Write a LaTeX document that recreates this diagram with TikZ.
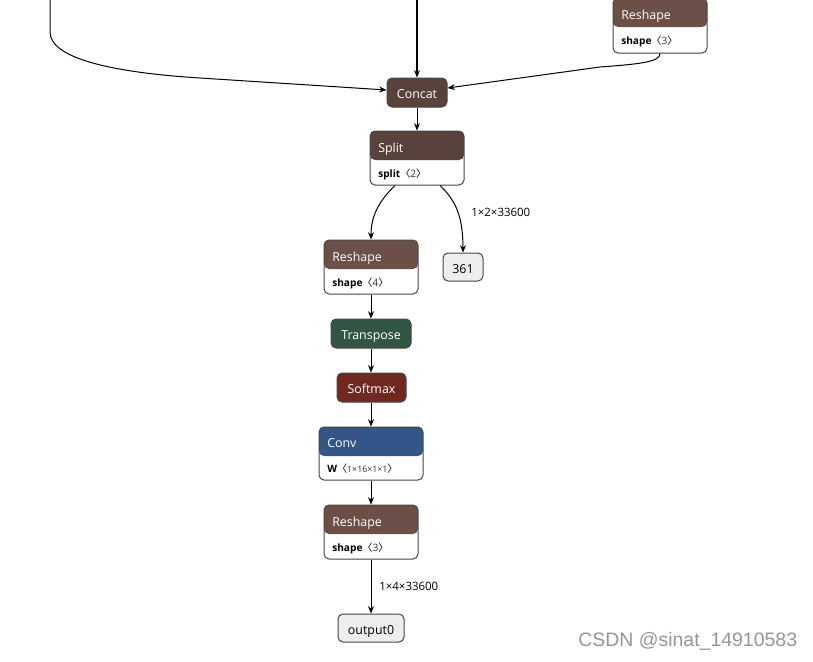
\documentclass[tikz,border=0pt]{standalone}
\usepackage{fontspec}
\setmainfont{Open Sans}
\newfontfamily\wmfont{Liberation Sans}
\newfontfamily\cjk{Noto Sans CJK SC}
\usetikzlibrary{arrows.meta,calc}
\definecolor{shapec}{RGB}{108,79,71}
\definecolor{tensc}{RGB}{89,66,59}
\definecolor{transc}{RGB}{51,85,68}
\definecolor{actc}{RGB}{112,41,33}
\definecolor{layerc}{RGB}{51,85,136}
\definecolor{bord}{RGB}{70,70,70}
\definecolor{iofill}{RGB}{238,238,238}
\definecolor{wmgray}{RGB}{150,150,150}
\definecolor{valc}{RGB}{50,50,60}
\newcommand\lb{{\cjk〈}}
\newcommand\rb{{\cjk〉}}
\begin{document}
\begin{tikzpicture}[x=0.75pt,y=-0.75pt,
  box/.style={draw=bord, line width=0.75pt, rounded corners=3.75pt, inner sep=0pt},
  hdr/.style={box, fill=white, path picture={\fill[#1] (path picture bounding box.north west) rectangle ([yshift=-29*0.75pt]path picture bounding box.north east);}},
  simple/.style={box, fill=#1, text=white, minimum height=29*0.75pt, text height=9pt, text depth=0pt, font=\fontsize{9.3pt}{11pt}\selectfont},
  io/.style={box, fill=iofill, text=black, minimum height=28*0.75pt, text height=9pt, text depth=0pt, font=\fontsize{9.3pt}{11pt}\selectfont},
  htxt/.style={anchor=base west, inner sep=0pt, text=white, font=\fontsize{9.3pt}{11pt}\selectfont},
  btxt/.style={anchor=base west, inner sep=0pt, text=black, font=\fontsize{7.6pt}{9pt}\selectfont},
  elab/.style={anchor=west, inner sep=0pt, text=black, font=\fontsize{8.6pt}{10pt}\selectfont},
  edge/.style={draw=black, line width=0.75pt, -{Stealth[length=5.5pt,width=4.5pt]}}
]
\useasboundingbox (0,0) rectangle (813,661);

% top Reshape
\node[hdr=shapec, minimum width=94*0.75pt, minimum height=55*0.75pt] (rs0) at (660,25.5) {};
\node[htxt] (rs0h) at (621,19.5) {Reshape};
\node[btxt] (rs0b) at (621,44.5) {\textbf{shape}\lb{\color{valc}3}\rb};

% Concat
\node[simple=tensc, minimum width=60*0.75pt] (concat) at (417,92.5) {Concat};

% Split
\node[hdr=tensc, minimum width=94*0.75pt, minimum height=54*0.75pt] (split) at (417,158) {};
\node[htxt] (splith) at (378,152.5) {Split};
\node[btxt] (splitb) at (378,177) {\textbf{split}\lb{\color{valc}2}\rb};

% Reshape 4
\node[hdr=shapec, minimum width=94*0.75pt, minimum height=54*0.75pt] (rs4) at (371,267) {};
\node[htxt] (rs4h) at (332,261.5) {Reshape};
\node[btxt] (rs4b) at (332,286) {\textbf{shape}\lb{\color{valc}4}\rb};

% 361
\node[io, minimum width=40*0.75pt] (n361) at (463,267) {361};

% Transpose
\node[simple=transc, minimum width=80*0.75pt] (tr) at (371,333.5) {Transpose};

% Softmax
\node[simple=actc, minimum width=69*0.75pt] (sm) at (371.5,387.5) {Softmax};

% Conv
\node[hdr=layerc, minimum width=104*0.75pt, minimum height=53*0.75pt] (conv) at (371,453.5) {};
\node[htxt] (convh) at (327,447.7) {Conv};
\node[btxt] (convb) at (327,472.5) {\textbf{W}\lb{\color{valc}\fontsize{6.6pt}{8pt}\selectfont 1×16×1×1}\rb};

% Reshape 3
\node[hdr=shapec, minimum width=94*0.75pt, minimum height=54*0.75pt] (rs3) at (371,532) {};
\node[htxt] (rs3h) at (332,526.5) {Reshape};
\node[btxt] (rs3b) at (332,551) {\textbf{shape}\lb{\color{valc}3}\rb};

% output0
\node[io, minimum width=66*0.75pt] (out) at (371,628) {output0};

% incoming from above
\coordinate (in1) at (417,-2);
\coordinate (in2) at (50,-2);

\draw[edge, line width=1.5pt] (in1) -- (concat.north);
\draw[edge] (in2) -- (50,32) .. controls (50,60) and (120,73) .. (200,78) -- ($(concat.west)+(0,-2.5)$);
\draw[edge] (rs0.south) .. controls (660,62) and (640,64) .. (600,67) -- ($(concat.east)+(0,-4.5)$);
\draw[edge] (concat.south) -- (split.north);
\draw[edge] ($(split.south)+(-22,0)$) .. controls (380,200) and (371,215) .. (rs4.north);
\draw[edge] ($(split.south)+(23,0)$) .. controls (455,200) and (463,215) .. (n361.north);
\node[elab] (l1) at (471,212) {1×2×33600};
\draw[edge] (rs4.south) -- (tr.north);
\draw[edge] (tr.south) -- (sm.north -| tr.south);
\draw[edge] (sm.south -| conv.north) -- (conv.north);
\draw[edge] (conv.south) -- (rs3.north);
\draw[edge] (rs3.south) -- (out.north);
\node[elab] (l2) at (379,586) {1×4×33600};

% watermark
\node[anchor=west, inner sep=0pt, text=wmgray, font=\wmfont\fontsize{14.6pt}{16pt}\selectfont] (wm) at (578,641) {CSDN @sinat\_14910583};
\end{tikzpicture}
\end{document}
